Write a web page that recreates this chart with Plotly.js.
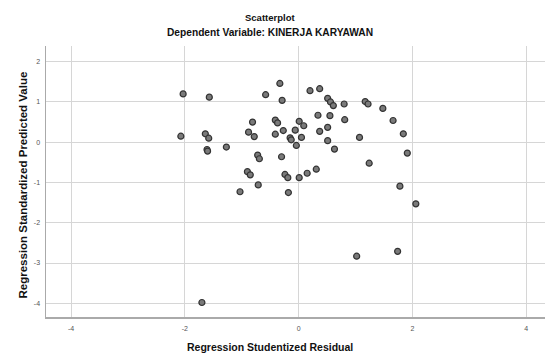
<!DOCTYPE html>
<html>
<head>
<meta charset="utf-8">
<script src="https://cdn.plot.ly/plotly-3.0.1.min.js"></script>
<style>html,body{margin:0;padding:0;background:#fff;}#chart{width:545px;height:353px;}</style>
</head>
<body>
<div id="chart"></div>
<script>
// Regression Studentized Residual
const residual = [
  -2.03, -1.57, -2.07, -1.64, -1.58, -1.61, -1.60, -1.27, -0.81, -0.88,
  -0.78, -0.72, -0.69, -0.90, -0.85, -0.71, -1.03, -0.58, -0.33, -0.29,
  -0.41, -0.37, -0.41, -0.27, -0.15, -0.13, -0.30, -0.24, -0.19, -0.18,
   0.01,  0.09, -0.06,  0.05, -0.04,  0.01,  0.15,  0.31,  0.20,  0.37,
   0.51,  0.56,  0.61,  0.34,  0.55,  0.37,  0.51,  0.51,  0.63,  0.80,
   0.81,  1.07,  1.17,  1.22,  1.24,  1.48,  1.66,  1.84,  1.91,  1.78,
   2.06,  1.02,  1.74, -1.70
];
// Regression Standardized Predicted Value
const predicted = [
   1.20,  1.12,  0.15,  0.21,  0.10, -0.18, -0.22, -0.12,  0.50,  0.25,
   0.14, -0.32, -0.41, -0.73, -0.81, -1.06, -1.23,  1.18,  1.46,  1.04,
   0.55,  0.48,  0.20,  0.29,  0.11,  0.06, -0.36, -0.80, -0.88, -1.25,
   0.52,  0.41,  0.30,  0.12, -0.08, -0.88, -0.77, -0.67,  1.28,  1.33,
   1.09,  1.00,  0.91,  0.67,  0.66,  0.27,  0.37,  0.04, -0.17,  0.95,
   0.56,  0.12,  1.01,  0.95, -0.52,  0.84,  0.54,  0.21, -0.27, -1.09,
  -1.53, -2.83, -2.71, -3.98
];
const xTicks = [-4, -2, 0, 2, 4];
const yTicks = [-4, -3, -2, -1, 0, 1, 2];

const trace = {
  x: residual, y: predicted, type: 'scatter', mode: 'markers',
  marker: {size: 6, color: '#7a7a7a', line: {color: '#333333', width: 1.2}},
  hoverinfo: 'skip'
};
const F = 'Liberation Sans, Arial, sans-serif';
const layout = {
  width: 545, height: 353,
  margin: {l: 46, r: 0, t: 46, b: 36, pad: 0},
  paper_bgcolor: '#ffffff', plot_bgcolor: '#ffffff',
  showlegend: false,
  font: {family: F, color: '#222'},
  xaxis: {
    range: [-4.44, 4.33], tickvals: xTicks, ticktext: xTicks.map(String),
    showgrid: true, gridcolor: '#d6d6d6', gridwidth: 1,
    zeroline: false, showline: true, linecolor: '#aaaaaa', linewidth: 1.5,
    ticks: '', tickfont: {size: 7, color: '#555', family: F}, ticklabelstandoff: 4
  },
  yaxis: {
    range: [-4.34, 2.39], tickvals: yTicks, ticktext: yTicks.map(String),
    showgrid: true, gridcolor: '#d6d6d6', gridwidth: 1,
    zeroline: false, showline: true, linecolor: '#aaaaaa', linewidth: 1.5,
    ticks: '', tickfont: {size: 7, color: '#555', family: F}, ticklabelstandoff: 3
  },
  annotations: [
    {text: '<b>Scatterplot</b>', xref: 'paper', yref: 'paper', x: 0.449, y: 1, yshift: 29,
     xanchor: 'center', yanchor: 'middle', showarrow: false, font: {size: 9.5, family: F, color: '#111'}},
    {text: '<b>Dependent Variable: KINERJA KARYAWAN</b>', xref: 'paper', yref: 'paper', x: 0.449, y: 1, yshift: 14,
     xanchor: 'center', yanchor: 'middle', showarrow: false, font: {size: 10.2, family: F, color: '#111'}},
    {text: '<b>Regression Studentized Residual</b>', xref: 'paper', yref: 'paper', x: 0.449, y: 0, yshift: -30,
     xanchor: 'center', yanchor: 'middle', showarrow: false, font: {size: 10.5, family: F, color: '#111'}},
    {text: '<b>Regression Standardized Predicted Value</b>', xref: 'paper', yref: 'paper', x: 0, xshift: -24, y: 0.5, yshift: -4,
     xanchor: 'center', yanchor: 'middle', textangle: -90, showarrow: false, font: {size: 11.5, family: F, color: '#111'}}
  ]
};
Plotly.newPlot('chart', [trace], layout, {displayModeBar: false, staticPlot: true});
</script>
</body>
</html>
